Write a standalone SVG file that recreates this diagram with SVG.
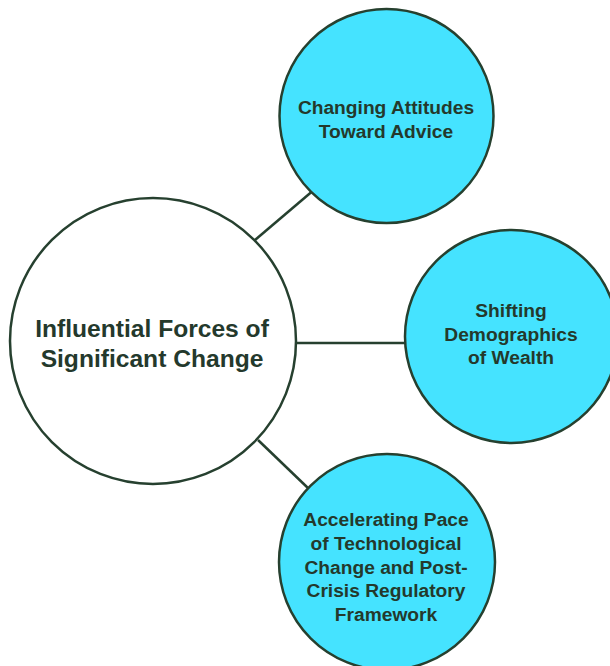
<svg xmlns="http://www.w3.org/2000/svg" width="610" height="666" viewBox="0 0 610 666">
<style>
.n{stroke:#26402f;stroke-width:2.5}
.hub{fill:#ffffff}
.leaf{fill:#45e3ff}
.c{stroke:#26402f;stroke-width:2.5;fill:none}
text{font-family:"Liberation Sans",Arial,sans-serif;font-weight:bold;fill:#24392c;text-anchor:middle}
.big{font-size:24.6px}
.sm{font-size:19.2px}
</style>
<rect width="610" height="666" fill="#ffffff"/>
<g id="connectors">
<line class="c" x1="255" y1="240" x2="315" y2="189"/>
<line class="c" x1="296" y1="343" x2="405" y2="343"/>
<line class="c" x1="258" y1="440" x2="309" y2="489"/>
</g>
<g id="hub">
<circle class="n hub" cx="153" cy="341" r="143"/>
<text class="big" x="152" y="337">Influential Forces of</text>
<text class="big" x="152" y="367">Significant Change</text>
</g>
<g id="node-attitudes">
<circle class="n leaf" cx="386.5" cy="116" r="107"/>
<text class="sm" x="386" y="114">Changing Attitudes</text>
<text class="sm" x="386" y="137.5">Toward Advice</text>
</g>
<g id="node-demographics">
<circle class="n leaf" cx="511.5" cy="336.5" r="106.5"/>
<text class="sm" x="511" y="317">Shifting</text>
<text class="sm" x="511" y="340.5">Demographics</text>
<text class="sm" x="511" y="364">of Wealth</text>
</g>
<g id="node-technology">
<circle class="n leaf" cx="387" cy="562" r="108"/>
<text class="sm" x="386" y="526">Accelerating Pace</text>
<text class="sm" x="386" y="550">of Technological</text>
<text class="sm" x="386" y="573.5">Change and Post-</text>
<text class="sm" x="386" y="597">Crisis Regulatory</text>
<text class="sm" x="386" y="621">Framework</text>
</g>
</svg>
